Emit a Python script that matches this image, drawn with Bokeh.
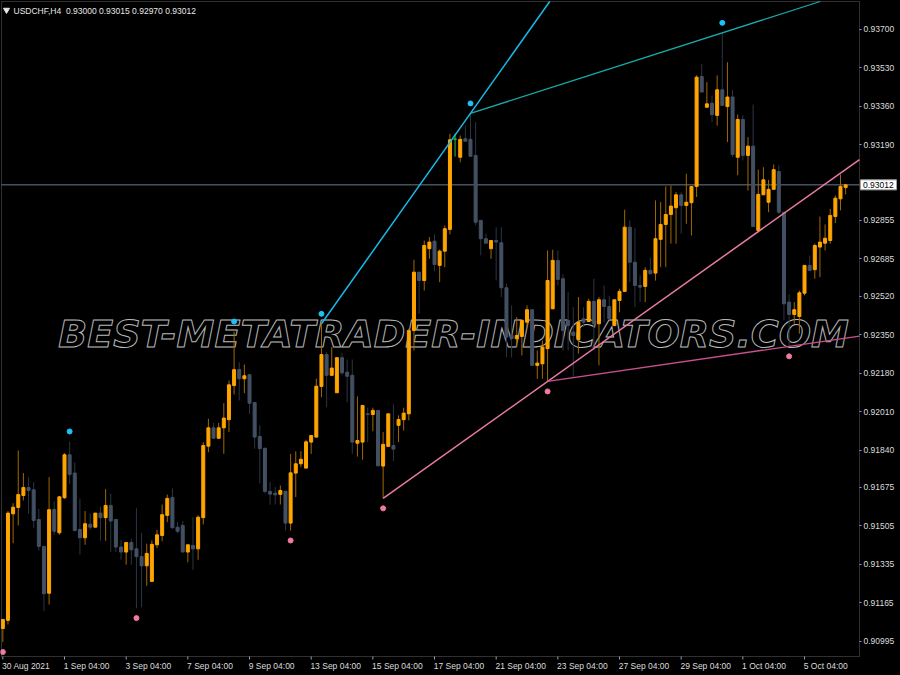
import numpy as np
from bokeh.plotting import figure
from bokeh.models import (Range1d, FixedTicker, Label, NumeralTickFormatter, LinearAxis,
                          CustomJSTickFormatter, BoxAnnotation, GlobalInlineStyleSheet)
from bokeh.embed import file_html
from bokeh.resources import INLINE
from bokeh.core.properties import value

# ---------------- data (prices in points, 1 point = 0.00001) ----------------
symbol = "USDCHF,H4"
bar_index = list(range(1, 166))
opens = [91051, 91087, 91558, 91586, 91639, 91674, 91664, 91533, 91414, 91207,
         91577, 91474, 91629, 91819, 91738, 91489, 91452, 91512, 91499, 91561,
         91541, 91595, 91533, 91411, 91389, 91431, 91403, 91369, 91328, 91259,
         91421, 91462, 91551, 91630, 91499, 91507, 91389, 91418, 91403, 91541,
         91857, 91938, 91892, 91938, 91974, 92125, 92196, 92155, 92173, 92050,
         91900, 91848, 91657, 91649, 91644, 91658, 91517, 91738, 91779, 91760,
         91875, 91897, 92121, 92262, 92170, 92093, 92248, 92184, 92170, 91870,
         91875, 92000, 91997, 92015, 91769, 91856, 91860, 91949, 91974, 92000,
         92368, 92626, 92589, 92730, 92763, 92656, 92719, 92815, 93214, 93134,
         93216, 93213, 93142, 92855, 92774, 92730, 92766, 92756, 92557, 92346,
         92332, 92342, 92405, 92460, 92214, 92221, 92288, 92464, 92678, 92597,
         92413, 92361, 92328, 92420, 92408, 92497, 92398, 92504, 92474, 92390,
         92501, 92541, 92825, 92670, 92567, 92563, 92634, 92622, 92771, 92837,
         92881, 92911, 92968, 92921, 92933, 93005, 93491, 93355, 93373, 93319,
         93432, 93358, 93400, 93134, 93301, 93142, 93183, 92810, 92968, 92935,
         92992, 93071, 92891, 92494, 92439, 92430, 92533, 92656, 92637, 92737,
         92754, 92766, 92872, 92950, 93000]
highs = [91091, 91570, 91605, 91838, 91738, 91720, 91698, 91580, 91414, 91720,
         91613, 91636, 91826, 91878, 91786, 91624, 91570, 91558, 91561, 91590,
         91667, 91647, 91533, 91443, 91431, 91448, 91583, 91474, 91426, 91440,
         91487, 91599, 91643, 91670, 91523, 91526, 91421, 91543, 91551, 91875,
         91978, 91960, 91960, 92047, 92147, 92364, 92228, 92218, 92173, 92050,
         91949, 91848, 91698, 91676, 91683, 91658, 91823, 91834, 91835, 91885,
         91904, 92156, 92398, 92273, 92295, 92248, 92270, 92240, 92240, 92077,
         92037, 92027, 92027, 92015, 91919, 92000, 92041, 91993, 92027, 92377,
         92681, 92626, 92766, 92781, 92793, 92726, 92832, 93238, 93238, 93230,
         93275, 93328, 93289, 92855, 92796, 92766, 92825, 92825, 92575, 92479,
         92427, 92413, 92479, 92460, 92280, 92324, 92722, 92725, 92722, 92616,
         92538, 92472, 92516, 92471, 92509, 92597, 92516, 92567, 92520, 92504,
         92553, 92902, 92855, 92822, 92612, 92648, 92690, 92943, 92936, 93005,
         93009, 92980, 92980, 93061, 93005, 93496, 93547, 93466, 93407, 93496,
         93684, 93554, 93432, 93323, 93319, 93223, 93367, 93079, 93090, 93034,
         93102, 93098, 92891, 92528, 92494, 92545, 92656, 92700, 92752, 92872,
         92837, 92906, 92965, 93058, 93015]
lows = [90991, 91069, 91428, 91507, 91617, 91558, 91496, 91396, 91128, 91157,
        91465, 91465, 91624, 91691, 91480, 91377, 91421, 91488, 91498, 91439,
        91439, 91389, 91389, 91355, 91333, 91333, 91141, 91145, 91240, 91259,
        91406, 91437, 91521, 91496, 91472, 91389, 91344, 91311, 91355, 91511,
        91830, 91892, 91890, 91823, 91919, 92086, 92059, 92091, 92000, 91846,
        91693, 91649, 91598, 91599, 91599, 91484, 91484, 91632, 91764, 91760,
        91823, 91897, 92074, 92029, 92170, 92093, 92170, 92051, 91823, 91811,
        91797, 91875, 91923, 91770, 91626, 91856, 91791, 91875, 91926, 91971,
        92280, 92442, 92545, 92685, 92630, 92582, 92648, 92793, 93137, 93112,
        93205, 93138, 92833, 92700, 92754, 92685, 92589, 92516, 92250, 92250,
        92295, 92258, 92383, 92214, 92155, 92155, 92143, 92464, 92568, 92280,
        92280, 92162, 92266, 92383, 92408, 92280, 92214, 92405, 92420, 92390,
        92449, 92541, 92582, 92471, 92494, 92494, 92619, 92589, 92648, 92648,
        92752, 92752, 92796, 92840, 92788, 92958, 93422, 93355, 93289, 93274,
        93363, 93201, 93134, 93054, 93120, 92987, 92828, 92810, 92968, 92891,
        92992, 92884, 92413, 92298, 92398, 92354, 92523, 92634, 92597, 92604,
        92722, 92752, 92843, 92899, 92970]
closes = [91091, 91561, 91587, 91643, 91674, 91661, 91529, 91414, 91205, 91576,
          91481, 91633, 91819, 91732, 91484, 91452, 91514, 91499, 91561, 91541,
          91595, 91526, 91411, 91389, 91431, 91399, 91369, 91328, 91383, 91423,
          91465, 91554, 91626, 91496, 91481, 91389, 91421, 91403, 91543, 91860,
          91938, 91892, 91938, 91981, 92128, 92195, 92155, 92168, 92047, 91897,
          91846, 91657, 91645, 91642, 91661, 91517, 91739, 91779, 91799, 91876,
          91904, 92122, 92262, 92170, 92202, 92248, 92181, 92166, 91875, 91882,
          92037, 91997, 92015, 91770, 91865, 92000, 91844, 91975, 92003, 92368,
          92626, 92589, 92744, 92759, 92660, 92719, 92818, 93211, 93214, 93213,
          93205, 93138, 92847, 92774, 92754, 92766, 92759, 92557, 92339, 92333,
          92346, 92413, 92460, 92214, 92224, 92295, 92589, 92678, 92594, 92368,
          92391, 92346, 92405, 92405, 92497, 92398, 92504, 92474, 92420, 92504,
          92541, 92825, 92670, 92567, 92560, 92634, 92619, 92774, 92837, 92881,
          92918, 92968, 92921, 92935, 93005, 93488, 93422, 93370, 93322, 93432,
          93363, 93400, 93146, 93301, 93142, 93183, 92828, 92970, 93034, 92992,
          93079, 92891, 92486, 92439, 92460, 92535, 92656, 92634, 92744, 92759,
          92776, 92877, 92953, 93005, 93012]

# fractal markers (bar numbers) and trend-line anchor bars
up_fractal_bars = [14, 46, 63, 92, 141]
down_fractal_bars = [1, 27, 57, 75, 107, 154]
blue_line_bars = [63, 92]      # through highs
teal_line_bars = [92, 141]     # through highs
pink_line_bars = [75, 107]     # through lows
magenta_line_bars = [107, 154] # through lows

price_ticks = [0.93700, 0.93530, 0.93360, 0.93190, 0.92855, 0.92685, 0.92520,
               0.92350, 0.92180, 0.92010, 0.91840, 0.91675, 0.91505, 0.91335,
               0.91165, 0.90995]
date_tick_bars = [1, 13, 25, 37, 49, 61, 73, 85, 97, 109, 121, 133, 145, 157]
date_tick_labels = ["30 Aug 2021", "1 Sep 04:00", "3 Sep 04:00", "7 Sep 04:00",
                    "9 Sep 04:00", "13 Sep 04:00", "15 Sep 04:00", "17 Sep 04:00",
                    "21 Sep 04:00", "23 Sep 04:00", "27 Sep 04:00", "29 Sep 04:00",
                    "1 Oct 04:00", "5 Oct 04:00"]
watermark = "BEST-METATRADER-INDICATORS.COM"

# ---------------- prep ----------------
PT = 1e-5
idx = np.array(bar_index, dtype=float)
o = np.array(opens) * PT
h = np.array(highs) * PT
l = np.array(lows) * PT
c = np.array(closes) * PT
bar_pos = {b: k for k, b in enumerate(bar_index)}

BULL, BEAR, DOJI = "#FFA500", "#435063", "#2DBE2D"
BULL_W, BEAR_W = "#A06800", "#2B3542"
body_col = [DOJI if abs(oo - cc) < 1e-9 else (BULL if cc > oo else BEAR) for oo, cc in zip(o, c)]
wick_col = [DOJI if abs(oo - cc) < 1e-9 else (BULL_W if cc > oo else BEAR_W) for oo, cc in zip(o, c)]

# ---------------- layout (canvas covers the whole chart window) ----------------
W, H = 900, 675                 # canvas size in px
BAR_PX, BAR0_PX = 5.139, -2.8   # bar spacing and position of bar 0 (px)
P_TOP, P_PER_PX = 0.938268, 0.0000442
XL = (0 - BAR0_PX) / BAR_PX
XR = (W - BAR0_PX) / BAR_PX
YT = P_TOP
YB = P_TOP - H * P_PER_PX
# chart area borders (px 1..859 horizontally, 1..656 vertically)
X0 = (1 - BAR0_PX) / BAR_PX
X1 = (859 - BAR0_PX) / BAR_PX
Y1 = P_TOP - 1 * P_PER_PX
Y0 = P_TOP - 656 * P_PER_PX
px_x = (XR - XL) / W   # data units per canvas px
px_y = (YT - YB) / H

p = figure(width=W, height=H, x_range=Range1d(XL, XR), y_range=Range1d(YB, YT),
           output_backend="svg", toolbar_location=None,
           x_axis_location=None, y_axis_location=None,
           min_border=0, background_fill_color="black", border_fill_color="black",
           outline_line_color=None)
for g in p.grid:
    g.visible = False

p.stylesheets.append(GlobalInlineStyleSheet(css="html, body { background: #000000; }"))

# watermark (behind candles)
p.text(x=[88.7], y=[0.92353], text=[watermark],
       text_font=value("DejaVu Sans"), text_font_style="bold italic",
       text_font_size="38px", text_color="black", text_outline_color="#b8b8b8",
       text_align="center", text_baseline="middle")

# current price line inside chart area
p.segment(x0=[X0], y0=[c[-1]], x1=[X1], y1=[c[-1]], line_color="#6B7B8C", line_width=1)

# candles
p.segment(x0=idx, y0=l, x1=idx, y1=h, line_color=wick_col, line_width=1)
p.vbar(x=idx, width=0.58, top=np.maximum(o, c), bottom=np.minimum(o, c),
       fill_color=body_col, line_color=body_col, line_width=1)

# trend lines (rays clipped to the chart area)
def ray(bars, arr, color, width):
    b0, b1 = bars
    y0, y1 = arr[bar_pos[b0]], arr[bar_pos[b1]]
    m = (y1 - y0) / (b1 - b0)
    xe, ye = X1, y0 + m * (X1 - b0)
    if ye > Y1:
        xe, ye = b0 + (Y1 - y0) / m, Y1
    p.line([b0, xe], [y0, ye], line_color=color, line_width=width)

ray(blue_line_bars, h, "#1AB8E8", 1.5)
ray(teal_line_bars, h, "#1AABAB", 1.3)
ray(pink_line_bars, l, "#E87BA2", 1.5)
ray(magenta_line_bars, l, "#C8508E", 1.3)

# fractal dots
off = 44 * PT
p.scatter(up_fractal_bars, [h[bar_pos[b]] + off for b in up_fractal_bars],
          size=5, marker="circle", color="#1EC0F5")
p.scatter(down_fractal_bars, [l[bar_pos[b]] - off for b in down_fractal_bars],
          size=5, marker="circle", color="#F07AA0")

# chart area frame
p.add_layout(BoxAnnotation(left=X0, right=X1, bottom=Y0, top=Y1, fill_alpha=0,
                           line_color="#a0a0a0", line_width=1))

# right price scale, fixed at the chart area's right border
ya = LinearAxis(fixed_location=X1)
ya.ticker = FixedTicker(ticks=price_ticks)
ya.formatter = NumeralTickFormatter(format="0.00000")
ya.axis_line_color = None
ya.major_tick_in = 0
ya.major_tick_out = 2
ya.minor_tick_line_color = None
ya.major_tick_line_color = "#a0a0a0"
ya.major_label_text_color = "#dcdcdc"
ya.major_label_text_font = "Liberation Sans"
ya.major_label_text_font_size = "8.5px"
ya.major_label_standoff = 2
p.add_layout(ya, "right")

# time scale: tick marks at the bars, labels start at the tick (MT4 style)
FS = 8.5
cw = {" ": .278, ":": .278, "A": .667, "u": .556, "g": .556, "S": .667, "e": .556,
      "p": .556, "O": .778, "c": .5, "t": .278}
def text_w(s):
    return sum(cw.get(ch, .556) for ch in s) * FS
label_pos = [b - 0.15 + text_w(s) / 2 * px_x for b, s in zip(date_tick_bars, date_tick_labels)]

tick_len = 3 * px_y
p.segment(x0=date_tick_bars, y0=[Y0] * len(date_tick_bars), x1=date_tick_bars,
          y1=[Y0 - tick_len] * len(date_tick_bars), line_color="#a0a0a0", line_width=1)

xa = LinearAxis(fixed_location=Y0)
xa.ticker = FixedTicker(ticks=label_pos)
xa.formatter = CustomJSTickFormatter(args=dict(labels=date_tick_labels),
                                     code="return labels[index]")
xa.axis_line_color = None
xa.major_tick_in = 0
xa.major_tick_out = 0
xa.major_tick_line_color = None
xa.minor_tick_line_color = None
xa.major_label_text_color = "#dcdcdc"
xa.major_label_text_font = "Liberation Sans"
xa.major_label_text_font_size = "8.5px"
xa.major_label_standoff = 4
p.add_layout(xa, "below")

# current price box on the scale
box_h = 5 * px_y
p.quad(left=[X1 + 1 * px_x], right=[X1 + 37 * px_x], bottom=[c[-1] - box_h],
       top=[c[-1] + box_h], fill_color="white", line_color="#a0a0a0", line_width=1)
p.text(x=[X1 + 3.5 * px_x], y=[c[-1]], text=[f"{c[-1]:.5f}"], text_color="black",
       text_font=value("Liberation Sans"), text_font_size="8.5px",
       text_align="left", text_baseline="middle")

# header
p.scatter([X0 + 5 * px_x], [Y1 - 8.5 * px_y], marker="inverted_triangle", size=6, color="#e8e8e8")
header = f"{symbol}\u00a0 {o[-1]:.5f} {h[-1]:.5f} {l[-1]:.5f} {c[-1]:.5f}"
p.add_layout(Label(x=X0 + 12 * px_x, y=Y1 - 4 * px_y, text=header, text_align="left",
                   text_baseline="top", text_color="#e8e8e8",
                   text_font="Liberation Sans", text_font_size="8.5px"))

open("out.html", "w").write(file_html(p, INLINE))
